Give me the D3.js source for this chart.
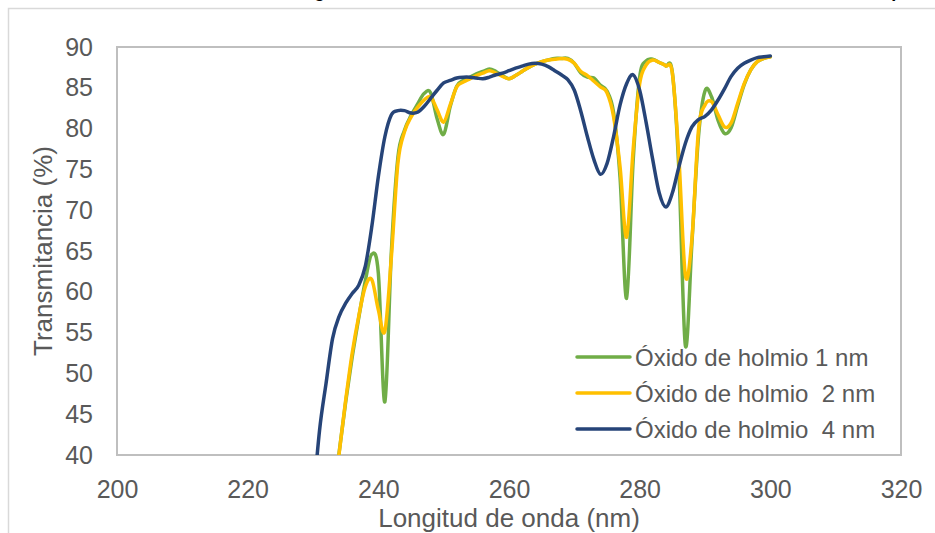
<!DOCTYPE html>
<html lang="es">
<head>
<meta charset="utf-8">
<script src="https://cdn.jsdelivr.net/npm/d3@7"></script>
<style>
  html, body { margin: 0; padding: 0; background: #fff; }
  svg { display: block; font-family: "Liberation Sans", Arial, sans-serif; }
</style>
</head>
<body>
<svg id="chart" width="935" height="533"></svg>
<script>
// Longitud de onda (nm)
const wavelengths = [
  230, 231, 232, 233, 234, 235, 236, 237, 238, 239,
  240, 241, 242, 243, 244, 245, 246, 247, 248, 249,
  250, 251, 252, 253, 254, 255, 256, 257, 258, 259,
  260, 261, 262, 263, 264, 265, 266, 267, 268, 269,
  270, 271, 272, 273, 274, 275, 276, 277, 278, 279,
  280, 281, 282, 283, 284, 285, 286, 287, 288, 289,
  290, 291, 292, 293, 294, 295, 296, 297, 298, 299, 300
];

// Transmitancia (%) — óxido de holmio 1 nm
const holmio1nm = [
  null, null, null, 34, 40.3, 46.5, 52, 56.8, 61.3, 64.6,
  62.3, 46.5, 65, 76.5, 79.8, 81.6, 83, 84.3, 84.4, 81.2,
  79.3, 82.7, 85.2, 85.9, 86.3, 86.7, 87.0, 87.3, 87.0, 86.5,
  86.1, 86.5, 87.0, 87.5, 87.9, 88.2, 88.4, 88.6, 88.6, 88.6,
  88.0, 86.8, 86.3, 86.2, 85.3, 84.6, 82, 74, 59.2, 76,
  86.3, 88.3, 88.5, 88.1, 87.7, 86.9, 75, 53.4, 66, 79,
  84.6, 83.9, 81, 79.4, 80.1, 82.8, 85.4, 87.2, 88.2, 88.6, 88.8
];

// Transmitancia (%) — óxido de holmio 2 nm
const holmio2nm = [
  null, null, null, 34, 40.2, 46.7, 52.5, 57, 60.6, 61.5,
  57.8, 55.2, 64.3, 75.8, 79.6, 81.4, 82.6, 83.5, 83.9, 82.3,
  80.8, 82.9, 85.1, 85.7, 86.1, 86.5, 86.8, 87.1, 86.8, 86.4,
  86.1, 86.5, 87.0, 87.5, 87.9, 88.2, 88.4, 88.5, 88.6, 88.5,
  88.0, 87.0, 86.5, 85.8, 85.1, 84.4, 81.5, 75.3, 66.7, 77.4,
  85.5, 87.8, 88.4, 88.1, 87.7, 86.8, 76.5, 62, 66.5, 79.8,
  82.9, 83.3, 81.7, 80.2, 80.7, 83.1, 85.5, 87.2, 88.2, 88.6, 88.8
];

// Transmitancia (%) — óxido de holmio 4 nm
const holmio4nm = [
  34, 43, 48.8, 54.3, 57, 58.6, 59.8, 60.8, 63.1, 68,
  74.1, 79, 81.7, 82.2, 82.2, 81.9, 82, 82.7, 83.7, 84.7,
  85.6, 85.9, 86.2, 86.3, 86.3, 86.2, 86.1, 86.3, 86.6, 86.8,
  87.1, 87.4, 87.65, 87.9, 88.0, 87.9, 87.6, 87.1, 86.6, 86.0,
  84.7, 82.1, 79, 76.2, 74.4, 75.7, 79, 82.9, 85.5, 86.6,
  84.7, 80.7, 76.2, 72.1, 70.4, 72.1, 75.3, 78.2, 80.2, 81.1,
  81.5, 82.3, 83.5, 84.9, 86.4, 87.4, 88.0, 88.4, 88.7, 88.8, 88.9
];

const seriesNames = ["Óxido de holmio 1 nm", "Óxido de holmio  2 nm", "Óxido de holmio  4 nm"];
const seriesColors = ["#70ad47", "#ffc000", "#264478"];
const xTicks = [200, 220, 240, 260, 280, 300, 320];
const yTicks = [40, 45, 50, 55, 60, 65, 70, 75, 80, 85, 90];

const titleText = "Ilustración 12. Resultados de la gráfica de onda del óxido de holmio a diferentes distancias de la capa de filtro";

const series = [holmio1nm, holmio2nm, holmio4nm].map((vals, i) => ({
  name: seriesNames[i],
  color: seriesColors[i],
  points: wavelengths.map((w, j) => ({ x: w, y: vals[j] }))
}));

const svg = d3.select("#chart");
const plot = { left: 117, top: 47, right: 901, bottom: 455 };

const x = d3.scaleLinear().domain([200, 320]).range([plot.left, plot.right]);
const y = d3.scaleLinear().domain([40, 90]).range([plot.bottom, plot.top]);

const textColor = "#595959";

// Chart-area frame (partly outside the page)
svg.append("rect")
  .attr("x", 8.5).attr("y", 8.5)
  .attr("width", 1000).attr("height", 1000)
  .attr("fill", "none")
  .attr("stroke", "#d9d9d9")
  .attr("stroke-width", 1.5);

// Caption above the chart, mostly cut off at the page top
svg.append("text")
  .attr("x", 40).attr("y", -3)
  .attr("font-size", 18)
  .attr("font-weight", "bold")
  .attr("fill", "#000")
  .text(titleText);

// Plot-area border
svg.append("rect")
  .attr("x", plot.left).attr("y", plot.top)
  .attr("width", plot.right - plot.left)
  .attr("height", plot.bottom - plot.top)
  .attr("fill", "none")
  .attr("stroke", "#bfbfbf")
  .attr("stroke-width", 2);

// Axes
const xAxis = svg.append("g")
  .attr("transform", `translate(0,${plot.bottom})`)
  .call(d3.axisBottom(x).tickValues(xTicks).tickSize(0).tickPadding(25).tickFormat(d3.format("d")));
xAxis.select(".domain").remove();
xAxis.selectAll("text")
  .attr("font-size", 25)
  .attr("font-family", "'Liberation Sans', Arial, sans-serif")
  .attr("fill", textColor);

const yAxis = svg.append("g")
  .attr("transform", `translate(${plot.left},0)`)
  .call(d3.axisLeft(y).tickValues(yTicks).tickSize(0).tickPadding(24).tickFormat(d3.format("d")));
yAxis.select(".domain").remove();
yAxis.selectAll("text")
  .attr("font-size", 25)
  .attr("font-family", "'Liberation Sans', Arial, sans-serif")
  .attr("fill", textColor);

// Axis titles
svg.append("text")
  .attr("x", (plot.left + plot.right) / 2)
  .attr("y", 527)
  .attr("text-anchor", "middle")
  .attr("font-size", 26)
  .attr("fill", textColor)
  .text("Longitud de onda (nm)");

svg.append("text")
  .attr("transform", `translate(52,${(plot.top + plot.bottom) / 2}) rotate(-90)`)
  .attr("text-anchor", "middle")
  .attr("font-size", 26)
  .attr("fill", textColor)
  .text("Transmitancia (%)");

// Clip the smoothed curves to the plot area
svg.append("clipPath").attr("id", "plot-clip")
  .append("rect")
  .attr("x", plot.left).attr("y", plot.top - 10)
  .attr("width", plot.right - plot.left)
  .attr("height", plot.bottom - plot.top + 10);

const line = d3.line()
  .defined(d => d.y !== null)
  .x(d => x(d.x))
  .y(d => y(d.y))
  .curve(d3.curveCatmullRom.alpha(0));

svg.append("g")
  .attr("clip-path", "url(#plot-clip)")
  .selectAll("path")
  .data(series)
  .join("path")
  .attr("d", d => line(d.points))
  .attr("fill", "none")
  .attr("stroke", d => d.color)
  .attr("stroke-width", 3.5)
  .attr("stroke-linejoin", "round")
  .attr("stroke-linecap", "round");

// Legend
const legend = svg.append("g");
const legendRows = [357, 393, 429];
series.forEach((s, i) => {
  legend.append("line")
    .attr("x1", 577).attr("x2", 630)
    .attr("y1", legendRows[i]).attr("y2", legendRows[i])
    .attr("stroke", s.color)
    .attr("stroke-width", 3.5)
    .attr("stroke-linecap", "round");
  legend.append("text")
    .attr("x", 635)
    .attr("y", legendRows[i] + 8.5)
    .attr("font-size", 24)
    .attr("fill", textColor)
    .style("white-space", "pre")
    .text(s.name);
});
</script>
</body>
</html>
